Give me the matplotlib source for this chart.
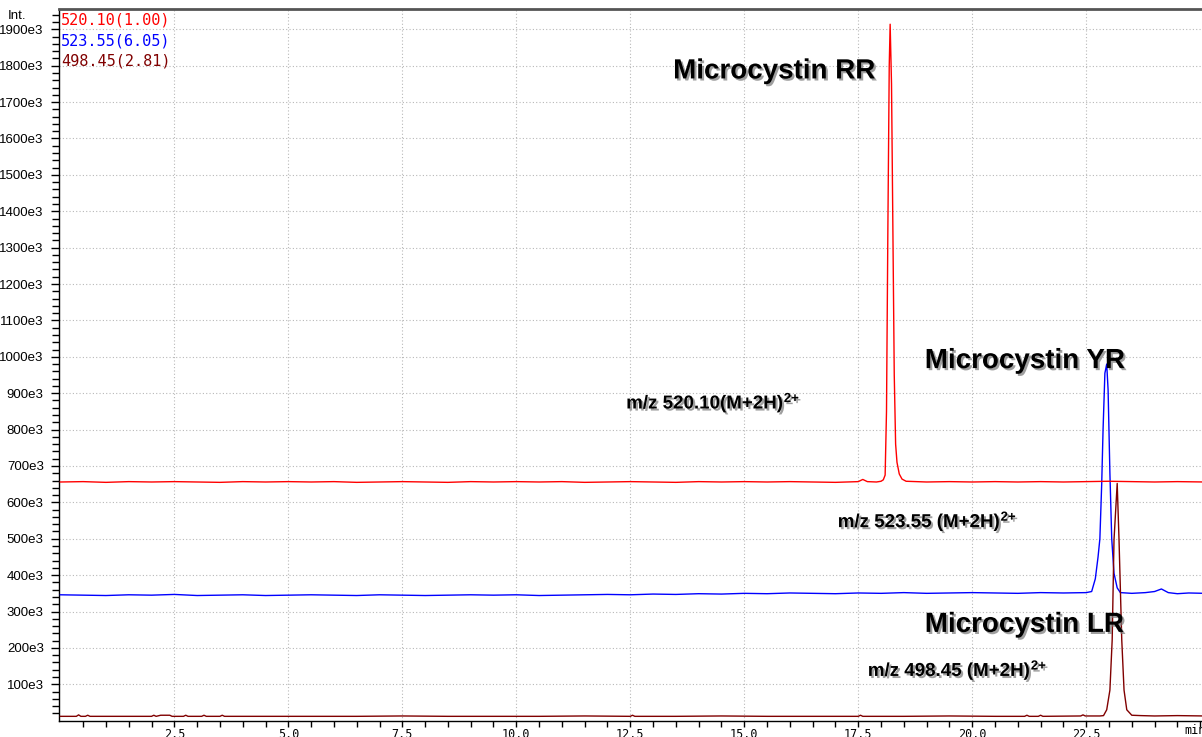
import matplotlib
matplotlib.use("Agg")
import matplotlib.pyplot as plt
from matplotlib.ticker import FixedLocator, FuncFormatter
import matplotlib.patheffects as pe

# ---------------- data ----------------
red_t = [0.0, 0.5, 1.0, 1.5, 2.0, 2.5, 3.0, 3.5, 4.0, 4.5, 5.0, 5.5, 6.0, 6.5, 7.0, 7.5,
         8.0, 8.5, 9.0, 9.5, 10.0, 10.5, 11.0, 11.5, 12.0, 12.5, 13.0, 13.5, 14.0, 14.5,
         15.0, 15.5, 16.0, 16.5, 17.0, 17.5, 17.6, 17.7, 17.9, 18.0, 18.05, 18.09, 18.12,
         18.15, 18.18, 18.20, 18.23, 18.26, 18.29, 18.32, 18.35, 18.40, 18.46, 18.55,
         19.0, 19.5, 20.0, 20.5, 21.0, 21.5, 22.0, 22.5, 23.0, 23.5, 24.0, 24.5, 25.1]
red_i = [656, 657, 655, 657, 656, 657, 656, 655, 657, 656, 657, 656, 657, 655, 656, 657,
         656, 655, 657, 656, 657, 656, 657, 655, 656, 657, 656, 655, 657, 656,
         657, 656, 657, 656, 655, 657, 663, 657, 656, 658, 662, 675, 850,
         1350, 1800, 1914, 1750, 1350, 950, 760, 710, 678, 664, 658,
         656, 657, 656, 657, 656, 657, 656, 657, 658, 657, 656, 657, 656]

blue_t = [0.0, 0.5, 1.0, 1.5, 2.0, 2.5, 3.0, 3.5, 4.0, 4.5, 5.0, 5.5, 6.0, 6.5, 7.0, 7.5,
          8.0, 8.5, 9.0, 9.5, 10.0, 10.5, 11.0, 11.5, 12.0, 12.5, 13.0, 13.5, 14.0, 14.5,
          15.0, 15.5, 16.0, 16.5, 17.0, 17.5, 18.0, 18.5, 19.0, 19.5, 20.0, 20.5, 21.0,
          21.5, 22.0, 22.5, 22.62, 22.70, 22.76, 22.80, 22.84, 22.87, 22.91, 22.95, 22.98,
          23.02, 23.06, 23.11, 23.18, 23.25, 23.5, 23.8, 24.0, 24.15, 24.3, 24.5, 24.75, 25.1]
blue_i = [346, 345, 344, 346, 345, 347, 344, 345, 346, 344, 345, 346, 345, 344, 346, 345,
          344, 345, 346, 345, 346, 344, 345, 346, 347, 346, 348, 347, 349, 348,
          350, 349, 351, 350, 349, 351, 350, 352, 350, 351, 352, 351, 350,
          352, 351, 352, 355, 390, 450, 500, 650, 800, 955, 980, 910,
          680, 500, 405, 365, 352, 350, 352, 355, 362, 352, 349, 351, 350]

dred_t = [0.0, 0.35, 0.4, 0.45, 0.55, 0.6, 0.65, 1.0, 1.5, 2.0, 2.05, 2.1, 2.2, 2.4, 2.45,
          2.7, 2.75, 2.8, 3.1, 3.15, 3.2, 3.5, 3.55, 3.6, 4.5, 5.5, 6.5, 7.5, 8.5, 9.5,
          10.5, 11.5, 12.5, 12.55, 12.6, 13.5, 14.5, 15.5, 16.5, 17.5, 17.55, 17.6, 18.5,
          19.5, 20.5, 21.15, 21.2, 21.25, 21.45, 21.5, 21.55, 22.38, 22.43, 22.48, 22.8,
          22.88, 22.95, 23.02, 23.07, 23.11, 23.18, 23.22, 23.28, 23.33, 23.39, 23.50,
          23.7, 24.0, 24.5, 25.1]
dred_i = [12, 12, 16, 12, 12, 15, 12, 12, 12, 12, 15, 12, 15, 15, 12,
          12, 15, 12, 12, 15, 12, 12, 15, 12, 12, 12, 12, 13, 12, 12,
          12, 13, 12, 15, 12, 12, 13, 12, 12, 12, 15, 12, 12,
          13, 12, 12, 15, 12, 12, 15, 12, 13, 16, 13, 13,
          14, 30, 84, 222, 497, 652, 497, 222, 84, 30, 15,
          14, 13, 14, 13]

legend_labels = ["520.10(1.00)", "523.55(6.05)", "498.45(2.81)"]
series_colors = ["#ff0000", "#0000ff", "#800000"]
x_major = [2.5, 5.0, 7.5, 10.0, 12.5, 15.0, 17.5, 20.0, 22.5]
y_major = [v * 100 for v in range(1, 20)]

# ---------------- figure ----------------
W, H = 1202, 737
fig = plt.figure(figsize=(W / 100, H / 100), dpi=100)
left, right, top, bottom = 59, 1202, 9.3, 720.7
ax = fig.add_axes([left / W, 1 - bottom / H, (right - left) / W, (bottom - top) / H])

ax.plot(blue_t, blue_i, color=series_colors[1], lw=1.0, zorder=3)
ax.plot(dred_t, dred_i, color=series_colors[2], lw=1.0, zorder=4)
ax.plot(red_t, red_i, color=series_colors[0], lw=1.0, zorder=5)

ax.set_xlim(-0.03, 25.04)
ax.set_ylim(0, 1955)

ax.xaxis.set_major_locator(FixedLocator(x_major))
ax.xaxis.set_minor_locator(FixedLocator([0.5 * k for k in range(1, 51)]))
ax.yaxis.set_major_locator(FixedLocator(y_major))
ax.yaxis.set_minor_locator(FixedLocator([20 * k for k in range(1, 98)]))
ax.xaxis.set_major_formatter(FuncFormatter(lambda v, p: f"{v:.1f}"))
ax.yaxis.set_major_formatter(FuncFormatter(lambda v, p: f"{int(round(v))}e3"))

ax.tick_params(axis="x", which="both", direction="out", length=4.5, width=1.0,
               pad=1.0, labelsize=8.5, colors="black")
ax.tick_params(axis="y", which="major", direction="out", length=5.5, width=1.0,
               pad=5.5, labelsize=9.5)
ax.tick_params(axis="y", which="minor", direction="out", length=5.0, width=1.0)
for lab in ax.get_xticklabels():
    lab.set_fontfamily("DejaVu Sans Mono")
for lab in ax.get_yticklabels():
    lab.set_fontfamily(["Liberation Sans Narrow", "Liberation Sans"])

ax.grid(which="major", linestyle=(0, (1, 2)), color="#b8b8b8", lw=0.8, zorder=0)

ax.spines["right"].set_visible(False)
ax.spines["top"].set_color("#555555")
ax.spines["top"].set_linewidth(2.0)
ax.spines["left"].set_linewidth(1.0)
ax.spines["bottom"].set_linewidth(1.0)

# legend-like labels
for k, (lab, col) in enumerate(zip(legend_labels, series_colors)):
    fig.text(61 / W, 1 - (20 + 20.7 * k) / H, lab, color=col, fontsize=11,
             family="DejaVu Sans Mono", va="center", ha="left")
fig.text(8 / W, 1 - 16 / H, "Int.", fontsize=9.5,
         family=["Liberation Sans Narrow", "Liberation Sans"], va="center", ha="left")
fig.text(1184 / W, 1 - 730 / H, "min", fontsize=8.5, family="DejaVu Sans Mono",
         va="center", ha="left")

shadow = [pe.withSimplePatchShadow(offset=(1.5, -1.5), shadow_rgbFace="#777777", alpha=0.7)]
big = dict(fontsize=20, fontweight="bold", family="Liberation Sans", ha="left",
           va="baseline", path_effects=shadow, zorder=6)
small = dict(fontsize=13.5, fontweight="bold", family="Liberation Sans", ha="left",
             va="baseline", path_effects=shadow, zorder=6)


def mz_label(x, y, s):
    t = ax.text(x, y, s, **small)
    ax.annotate("2+", xy=(1.0, 0.0), xycoords=t, xytext=(1.0, 7.5),
                textcoords="offset points", fontsize=9.5, fontweight="bold",
                family="Liberation Sans", ha="left", va="baseline",
                path_effects=shadow, zorder=6)


ax.text(13.44, 1765, "Microcystin RR", **big)
mz_label(12.41, 858, "m/z 520.10(M+2H)")
ax.text(18.96, 969, "Microcystin YR", **big)
mz_label(17.05, 532, "m/z 523.55 (M+2H)")
ax.text(18.96, 244, "Microcystin LR", **big)
mz_label(17.71, 123, "m/z 498.45 (M+2H)")

fig.savefig("out.png", dpi=100)
